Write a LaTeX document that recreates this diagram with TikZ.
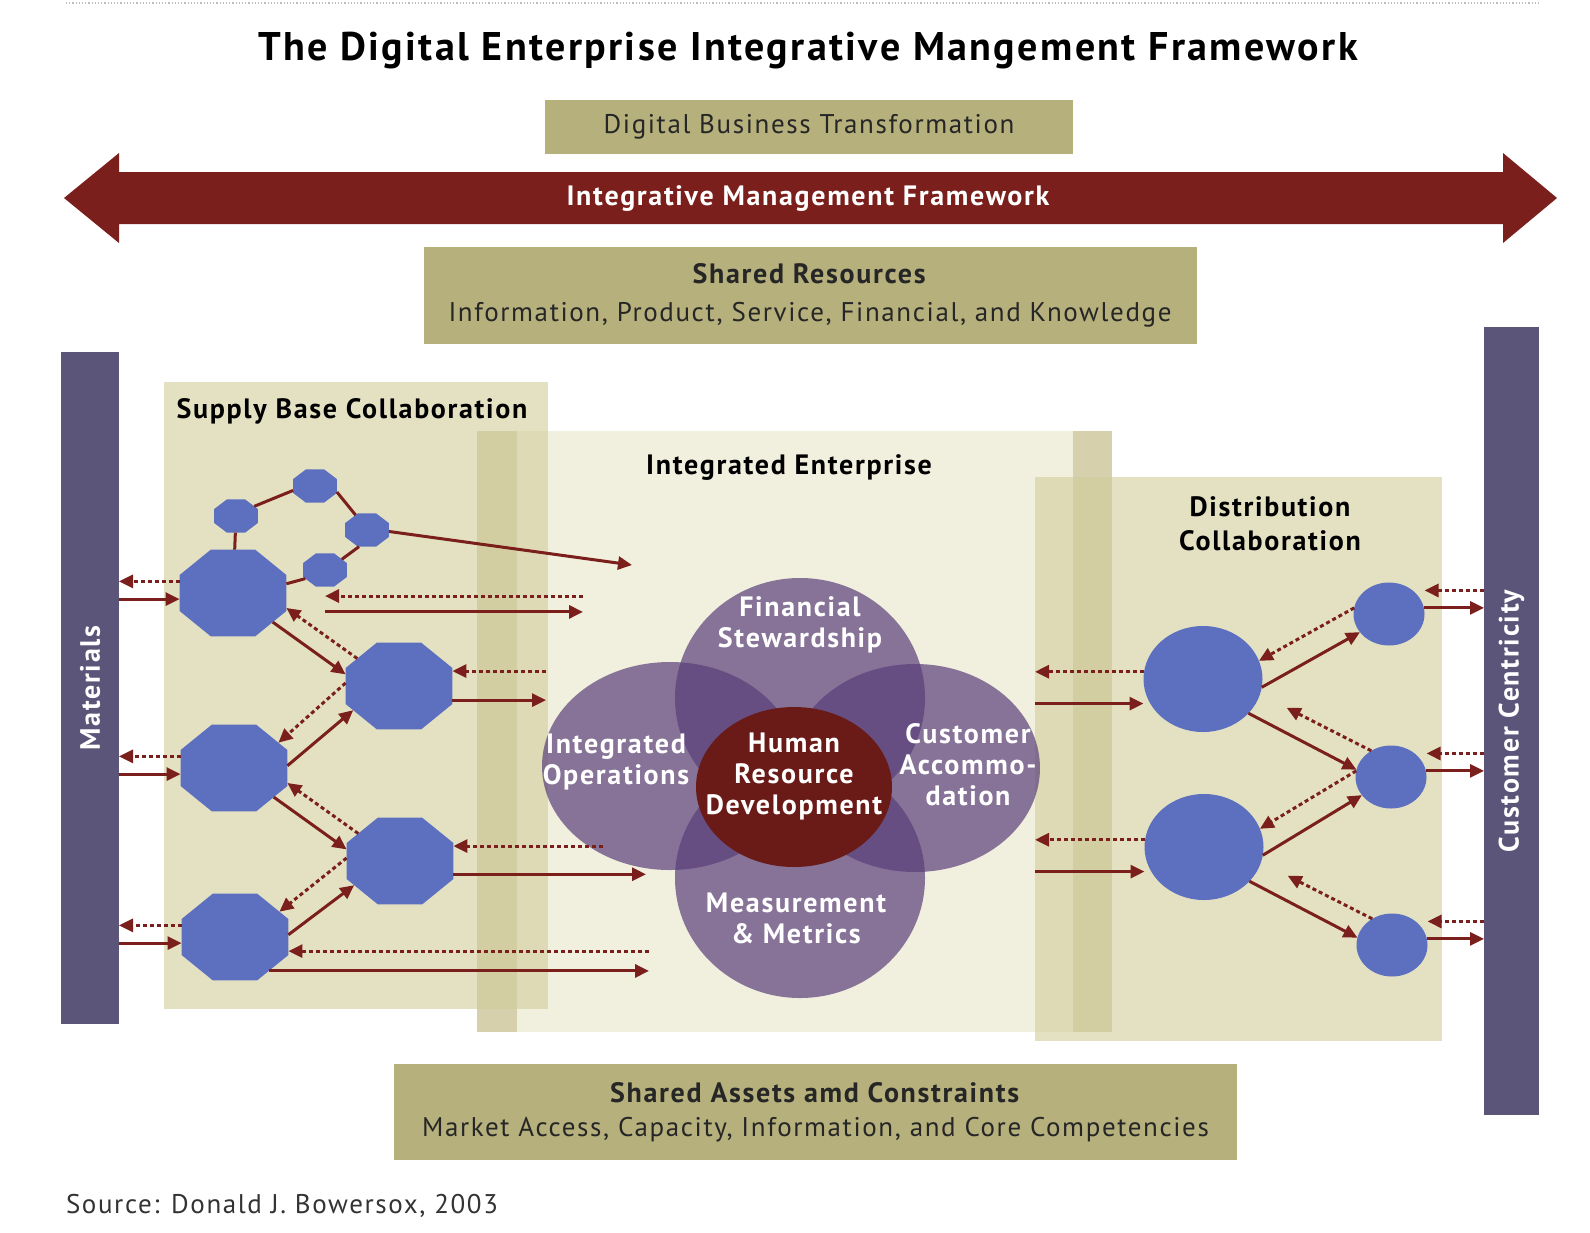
\documentclass[tikz,border=0pt]{standalone}
\usepackage{fontspec}
\setmainfont{PT Sans}[LetterSpace=6]
\usetikzlibrary{shapes.geometric,arrows.meta}
\definecolor{framered}{HTML}{7A1F1B}
\definecolor{khaki}{HTML}{B6B07C}
\definecolor{slate}{HTML}{5A5579}
\definecolor{nodeblue}{HTML}{5C70BF}
\definecolor{vennpurple}{HTML}{5A3F7A}
\definecolor{hrred}{HTML}{6A1B17}
\definecolor{panel}{HTML}{D2CD9B}
\definecolor{entpanel}{HTML}{F1EFDD}
\definecolor{strip}{HTML}{D6D1AC}
\begin{document}
\begin{tikzpicture}[x=1pt, y=-1pt,
  every node/.style={inner sep=0pt, outer sep=0pt, align=center},
  tx/.style={font=\fontsize{27}{34}\selectfont},
  txb/.style={font=\fontsize{28}{34}\selectfont\bfseries},
  kbox/.style={fill=khaki, text=black!85},
  bar/.style={fill=slate},
  bartext/.style={text=white, font=\fontsize{28}{30}\selectfont\bfseries},
  octL/.style={regular polygon, regular polygon sides=8, fill=nodeblue, minimum size=94pt, xscale=1.23},
  octS/.style={regular polygon, regular polygon sides=8, fill=nodeblue, minimum size=36pt, xscale=1.32},
  blob/.style={ellipse, fill=nodeblue},
  venn/.style={ellipse, fill=vennpurple, fill opacity=0.7},
  vtext/.style={text=white, font=\fontsize{28}{31}\selectfont\bfseries},
  flow/.style={framered, line width=3pt, -{Triangle[length=14pt, width=13pt]}},
  feedback/.style={flow, dash pattern=on 4pt off 3pt},
  link/.style={framered, line width=3pt}]
\fill[white] (0,0) rectangle (1590,1232);
\useasboundingbox (0,0) rectangle (1590,1232);
\draw[black!25, dotted, line width=1.2pt] (66,3) -- (1540,3);

\node[font=\fontsize{40}{42}\selectfont\bfseries] (title) at (808,51) {The Digital Enterprise Integrative Mangement Framework};
\node[kbox, tx, minimum width=528pt, minimum height=54pt] (dbt) at (809,127) {Digital Business Transformation};
\fill[framered] (64,198) -- (119,153) -- (119,172) -- (1503,172) -- (1503,153) -- (1557,198)
  -- (1503,243) -- (1503,224) -- (119,224) -- (119,243) -- cycle;
\node[txb, text=white] (imf) at (808,199) {Integrative Management Framework};
\node[kbox, minimum width=773pt, minimum height=97pt, font=\fontsize{27}{38}\selectfont] (sr) at (810,295)
  {\textbf{\fontsize{28}{38}\selectfont Shared Resources}\\Information, Product, Service, Financial, and Knowledge};

\node[fill=entpanel, minimum width=635pt, minimum height=601pt] (ent) at (794.5,731.5) {};
\fill[strip] (477,431) rectangle (517,1032);
\fill[strip] (1073,431) rectangle (1112,1032);
\node[fill=panel, fill opacity=0.6, minimum width=384pt, minimum height=627pt] (supply) at (356,695.5) {};
\node[fill=panel, fill opacity=0.6, minimum width=407pt, minimum height=564pt] (dist) at (1238.5,759) {};

\node[bar, minimum width=58pt, minimum height=672pt] (mat) at (90,688) {};
\node[bartext, rotate=90] (matl) at (mat) {Materials};
\node[bar, minimum width=55pt, minimum height=788pt] (cc) at (1511.5,721) {};
\node[bartext, rotate=90] (ccl) at (cc) {Customer Centricity};

\node[txb] (supplyt) at (352,411) {Supply Base Collaboration};
\node[txb] (entt) at (789,468) {Integrated Enterprise};
\node[txb] (distt) at (1270,524) {Distribution\\Collaboration};

\node[venn, minimum width=250pt, minimum height=240pt] (fin) at (800,698) {};
\node[venn, minimum width=250pt, minimum height=240pt] (meas) at (800,878) {};
\node[venn, minimum width=256pt, minimum height=208pt] (ops) at (670,766) {};
\node[venn, minimum width=250pt, minimum height=208pt] (cust) at (915,768) {};
\node[ellipse, fill=hrred, minimum width=196pt, minimum height=160pt] (hr) at (794,787) {};
\node[vtext] (finl) at (800,625) {Financial\\Stewardship};
\node[vtext] (opsl) at (616,762) {Integrated\\Operations};
\node[vtext] (hrl) at (794,776) {Human\\Resource\\Development};
\node[vtext] (custl) at (968,765) {Customer\\Accommo-\\dation};
\node[vtext] (measl) at (796,918) {Measurement\\\& Metrics};

\node[octS] (t1) at (236,516) {};
\node[octS] (t2) at (315,486) {};
\node[octS] (t3) at (367,530) {};
\node[octS] (t4) at (325,570) {};
\node[octL] (sup1) at (233,593) {};
\node[octL] (sup2) at (399,686) {};
\node[octL] (sup3) at (234,768) {};
\node[octL] (sup4) at (400,861) {};
\node[octL] (sup5) at (235,937) {};

\draw[link] (t1.35) -- (t2.195);
\draw[link] (t2.-20) -- (t3.120);
\draw[link] (t3.-110) -- (t4.40);
\draw[link] (t4.-150) -- (sup1.12);
\draw[link] (t1) -- (sup1);
\coordinate (ie) at (632,565);
\draw[flow] (t3.-5) -- (ie);

\foreach \n in {sup1,sup3,sup5}{
  \draw[feedback] (\n.165) -- (\n.165 -| mat.east);
  \draw[flow] (\n.-172 -| mat.east) -- (\n.-172);
}
\foreach \a/\b in {sup1/sup2, sup3/sup4}{
  \draw[flow] (\a.-42) -- (\b.165);
  \draw[feedback] (\b.141) -- (\a.-19);
}
\foreach \a/\b in {sup3/sup2, sup5/sup4}{
  \draw[flow] (\a.3) -- (\b.-147);
  \draw[feedback] (\b.176) -- (\a.35);
}

\coordinate (e1) at (583,604);
\coordinate (e2) at (546,686);
\coordinate (e4) at (603,846);
\coordinate (e4b) at (646,874);
\coordinate (e5) at (649,960);
\draw[feedback] (sup1.-4 -| e1) -- (sup1.-4 -| t4);
\draw[flow] (sup1.-24 -| t4) -- (sup1.-24 -| e1);
\draw[feedback] (sup2.19 -| e2) -- (sup2.19);
\draw[flow] (sup2.-18) -- (sup2.-18 -| e2);
\draw[feedback] (sup4.19 -| e4) -- (sup4.19);
\draw[flow] (sup4.-17) -- (sup4.-17 -| e4b);
\draw[feedback] (sup5.-18 -| e5) -- (sup5.-18);
\draw[flow] (sup5.-51) -- (sup5.-51 -| e5);

\node[blob, minimum width=119pt, minimum height=106pt] (dc1) at (1203,679) {};
\node[blob, minimum width=119pt, minimum height=106pt] (dc2) at (1204,847) {};
\node[blob, minimum width=71pt, minimum height=63pt] (cu1) at (1389,614) {};
\node[blob, minimum width=71pt, minimum height=63pt] (cu2) at (1391,777) {};
\node[blob, minimum width=71pt, minimum height=63pt] (cu3) at (1392,945) {};

\foreach \c in {cu1,cu2,cu3}{
  \draw[feedback] (cc.west |- \c.45) -- (\c.45 -| \c.east);
  \draw[flow] (\c.10) -- (\c.10 -| cc.west);
}
\foreach \d in {dc1,dc2}{
  \draw[feedback] (\d.173) -- (\d.173 -| dist.west);
  \draw[flow] (\d.-155 -| dist.west) -- (\d.-155 -| \d.west);
}
\foreach \d/\u/\v in {dc1/cu1/cu2, dc2/cu2/cu3}{
  \draw[flow] (\d.-8) -- (\u.-148);
  \draw[feedback] (\u.170) -- (\d.18);
  \draw[flow] (\d.-37) -- (\v.168);
  \draw[feedback, shorten >=30pt] (\v.127) -- (\d.-15);
}

\node[kbox, minimum width=843pt, minimum height=96pt, font=\fontsize{27}{34}\selectfont] (sac) at (815.5,1112)
  {\textbf{\fontsize{28}{34}\selectfont Shared Assets amd Constraints}\\Market Access, Capacity, Information, and Core Competencies};
\node[tx, anchor=west, text=black!80] (src) at (66,1206) {Source: Donald J. Bowersox, 2003};
\end{tikzpicture}
\end{document}
